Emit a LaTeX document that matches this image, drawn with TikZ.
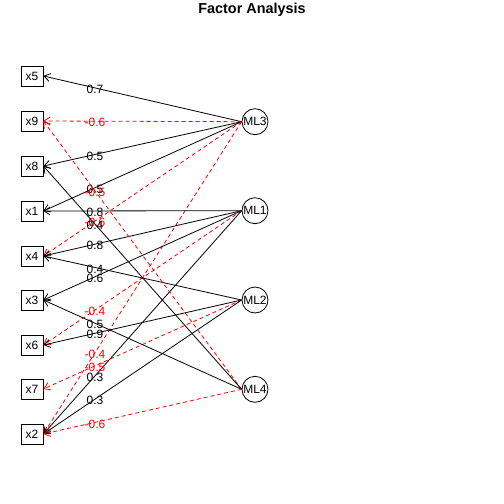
\documentclass[tikz,border=0pt]{standalone}
\usepackage{fontspec}
\setmainfont{Liberation Sans}
\usetikzlibrary{arrows.meta}
\begin{document}
\begin{tikzpicture}[x=1pt,y=-1pt,
  var/.style={draw,line width=0.8pt,minimum width=22pt,minimum height=20pt,inner sep=0pt,font=\fontsize{12}{14}\selectfont},
  fac/.style={draw,circle,line width=0.8pt,minimum size=26pt,inner sep=0pt,font=\fontsize{12}{14}\selectfont},
  ldpos/.style={line width=0.8pt,-{Straight Barb[length=6pt,width=8pt]}},
  ldneg/.style={ldpos,red,dash pattern=on 4pt off 3pt},
  lab/.style={pos=0.74,font=\fontsize{12}{14}\selectfont,inner sep=0pt,yshift=-1.5pt},
]
\useasboundingbox (0,0) rectangle (504,504);
\node[font=\bfseries\fontsize{14.4}{17}\selectfont] (title) at (252,9.5) {Factor Analysis};
% variables
\node[var] (x5) at (32,76) {x5};
\node[var] (x9) at (32,121) {x9};
\node[var] (x8) at (32,166) {x8};
\node[var] (x1) at (32,211) {x1};
\node[var] (x4) at (32,256) {x4};
\node[var] (x3) at (32,300) {x3};
\node[var] (x6) at (32,345) {x6};
\node[var] (x7) at (32,389) {x7};
\node[var] (x2) at (32,434) {x2};
% factors
\node[fac] (ML3) at (255,121.7) {ML3};
\node[fac] (ML1) at (255,210.7) {ML1};
\node[fac] (ML2) at (255,300) {ML2};
\node[fac] (ML4) at (255,389.3) {ML4};
% ML3
\draw[ldpos] (ML3.west) -- node[lab] {0.7} (x5.east);
\draw[ldneg] (ML3.west) -- node[lab] {-0.6} (x9.east);
\draw[ldpos] (ML3.west) -- node[lab] {0.5} (x8.east);
\draw[ldpos] (ML3.west) -- node[lab] {0.5} (x1.east);
\draw[ldneg] (ML3.west) -- node[lab] {-0.6} (x4.east);
\draw[ldneg] (ML3.west) -- node[lab] {-0.4} (x2.east);
% ML1
\draw[ldpos] (ML1.west) -- node[lab] {0.8} (x1.east);
\draw[ldpos] (ML1.west) -- node[lab] {0.8} (x4.east);
\draw[ldpos] (ML1.west) -- node[lab] {0.6} (x3.east);
\draw[ldneg] (ML1.west) -- node[lab] {-0.4} (x6.east);
\draw[ldpos] (ML1.west) -- node[lab] {0.3} (x2.east);
% ML2
\draw[ldpos] (ML2.west) -- node[lab] {0.4} (x4.east);
\draw[ldpos] (ML2.west) -- node[lab] {0.9} (x6.east);
\draw[ldneg] (ML2.west) -- node[lab] {-0.5} (x7.east);
\draw[ldpos] (ML2.west) -- node[lab] {0.3} (x2.east);
% ML4
\draw[ldneg] (ML4.west) -- node[lab] {-0.5} (x9.east);
\draw[ldpos] (ML4.west) -- node[lab] {0.4} (x8.east);
\draw[ldpos] (ML4.west) -- node[lab] {0.5} (x3.east);
\draw[ldneg] (ML4.west) -- node[lab] {-0.6} (x2.east);
\end{tikzpicture}
\end{document}
